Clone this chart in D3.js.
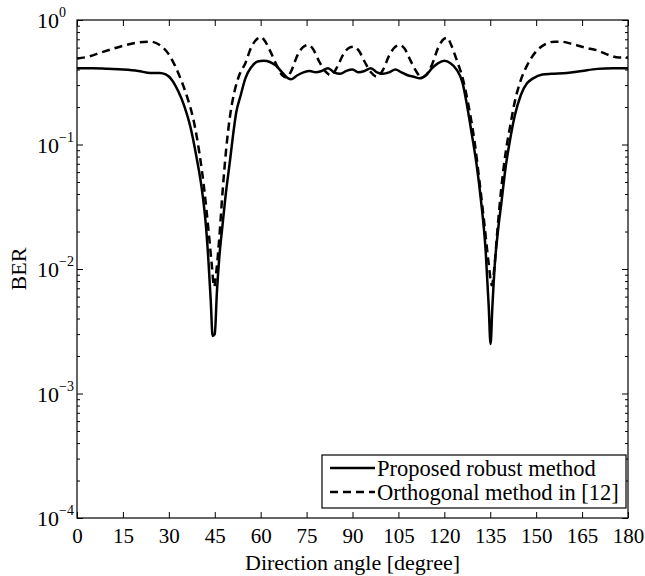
<!DOCTYPE html>
<html>
<head>
<meta charset="utf-8">
<script src="https://cdn.jsdelivr.net/npm/d3@7"></script>
<style>
  body { margin: 0; background: #fff; }
  text { font-family: "Liberation Serif", "Times New Roman", serif; fill: #000; }
</style>
</head>
<body>
<div id="chart"></div>
<script>
// angles [degree] and BER values
const anglesProposed = [0, 5, 10, 15, 20, 24, 27, 29, 31, 33, 35, 37, 39, 41, 42, 43, 43.7, 44.3, 45, 45.7, 46.5, 47.5, 48.5, 50, 51, 52, 53.5, 55, 57, 59, 61, 63, 65, 67, 69, 70, 72, 74, 76, 78, 80, 82, 84, 86, 88, 90, 92, 94, 96, 98, 100, 102, 104, 106, 108, 110, 112, 114, 116, 118, 120, 122, 124, 126, 127.5, 129, 130.5, 132, 133.5, 134.5, 135.1, 135.7, 136.5, 137.5, 138.7, 140, 141.5, 143, 145, 147, 149, 152, 155, 160, 165, 170, 175, 180];
const berProposed = [0.41, 0.41, 0.405, 0.40, 0.39, 0.375, 0.375, 0.365, 0.33, 0.27, 0.205, 0.14, 0.08, 0.04, 0.024, 0.011, 0.0055, 0.0029, 0.003, 0.0065, 0.0125, 0.022, 0.038, 0.075, 0.12, 0.18, 0.25, 0.34, 0.42, 0.465, 0.47, 0.46, 0.43, 0.38, 0.34, 0.335, 0.36, 0.38, 0.39, 0.38, 0.39, 0.41, 0.38, 0.37, 0.39, 0.40, 0.38, 0.39, 0.41, 0.38, 0.37, 0.38, 0.40, 0.38, 0.36, 0.35, 0.34, 0.36, 0.41, 0.45, 0.47, 0.45, 0.40, 0.31, 0.2, 0.12, 0.07, 0.035, 0.014, 0.005, 0.0025, 0.005, 0.011, 0.02, 0.035, 0.065, 0.11, 0.17, 0.25, 0.31, 0.34, 0.365, 0.37, 0.375, 0.39, 0.405, 0.41, 0.41];

const anglesOrthogonal = [0, 4, 8, 12, 16, 20, 24, 27, 30, 32, 34, 36, 38, 40, 41.5, 43, 44, 44.8, 45.6, 46.5, 47.5, 48.7, 50, 51.5, 53, 55, 57, 59, 60, 61, 63, 65.5, 67, 68.5, 70, 72, 74, 75.5, 77, 79, 81, 83, 85, 87, 89, 90.5, 92, 94, 96, 98, 100, 102, 104, 105.5, 107, 109, 111, 112.5, 114, 116, 118, 120, 121, 122, 124, 126, 128, 130, 131.5, 133, 134.5, 135.5, 136.3, 137.3, 138.5, 140, 141.5, 143, 145, 147, 150, 153, 156, 158, 162, 166, 170, 174, 177, 180];
const berOrthogonal = [0.49, 0.51, 0.55, 0.59, 0.63, 0.66, 0.67, 0.63, 0.53, 0.43, 0.33, 0.24, 0.16, 0.085, 0.045, 0.02, 0.011, 0.0072, 0.01, 0.018, 0.04, 0.09, 0.17, 0.27, 0.36, 0.45, 0.61, 0.71, 0.73, 0.70, 0.57, 0.42, 0.36, 0.345, 0.39, 0.52, 0.61, 0.63, 0.59, 0.47, 0.39, 0.36, 0.42, 0.53, 0.60, 0.61, 0.57, 0.46, 0.38, 0.35, 0.40, 0.52, 0.61, 0.63, 0.59, 0.47, 0.38, 0.345, 0.36, 0.44, 0.60, 0.71, 0.72, 0.65, 0.48, 0.34, 0.2, 0.1, 0.05, 0.024, 0.011, 0.0074, 0.01, 0.02, 0.042, 0.085, 0.14, 0.22, 0.33, 0.43, 0.56, 0.64, 0.67, 0.67, 0.64, 0.60, 0.57, 0.52, 0.50, 0.50];

const xTicks = [0, 15, 30, 45, 60, 75, 90, 105, 120, 135, 150, 165, 180];
const yExponents = [0, -1, -2, -3, -4];
const legendLabels = ["Proposed robust method", "Orthogonal method in [12]"];

const W = 645, H = 576;
const margin = {top: 20, right: 17, bottom: 58, left: 77};
const width = W - margin.left - margin.right;
const height = H - margin.top - margin.bottom;

const svg = d3.select("#chart").append("svg")
    .attr("width", W)
    .attr("height", H);

const g = svg.append("g")
    .attr("transform", "translate(" + margin.left + "," + margin.top + ")");

const x = d3.scaleLinear().domain([0, 180]).range([0, width]);
const y = d3.scaleLog().domain([1e-4, 1]).range([height, 0]);

// ticks (inward, on all four sides)
const minorVals = [];
for (let e = -4; e < 0; e++) {
    for (let k = 2; k <= 9; k++) minorVals.push(k * Math.pow(10, e));
}

g.append("g").attr("transform", "translate(0," + height + ")")
    .call(d3.axisBottom(x).tickValues(xTicks).tickSize(-6).tickPadding(10).tickFormat(d3.format("d")))
    .call(a => a.select(".domain").remove())
    .call(a => a.selectAll("text").style("font-size", "21px").attr("dy", "0.72em"));

g.append("g")
    .call(d3.axisTop(x).tickValues(xTicks).tickSize(-6).tickFormat(""))
    .call(a => a.select(".domain").remove());

g.append("g")
    .call(d3.axisLeft(y).tickValues(yExponents.map(e => Math.pow(10, e))).tickSize(-6).tickFormat(""))
    .call(a => a.select(".domain").remove());
g.append("g")
    .call(d3.axisLeft(y).tickValues(minorVals).tickSize(-3).tickFormat(""))
    .call(a => a.select(".domain").remove());
g.append("g").attr("transform", "translate(" + width + ",0)")
    .call(d3.axisRight(y).tickValues(yExponents.map(e => Math.pow(10, e))).tickSize(-6).tickFormat(""))
    .call(a => a.select(".domain").remove());
g.append("g").attr("transform", "translate(" + width + ",0)")
    .call(d3.axisRight(y).tickValues(minorVals).tickSize(-3).tickFormat(""))
    .call(a => a.select(".domain").remove());

g.selectAll(".tick line").attr("stroke", "#000").attr("stroke-width", 1);

// y tick labels 10^e
const yl = g.append("g").selectAll("text.ylab")
    .data(yExponents)
    .join("text")
    .attr("class", "ylab")
    .attr("x", -40)
    .attr("y", d => y(Math.pow(10, d)) + 8)
    .style("font-size", "22px");
yl.append("tspan").text("10");
yl.append("tspan").attr("dy", -11).style("font-size", "14px")
    .text(d => d === 0 ? "0" : "\u2212" + Math.abs(d));

// box
g.append("rect")
    .attr("width", width).attr("height", height)
    .attr("fill", "none").attr("stroke", "#000").attr("stroke-width", 1.2);

// lines
const line = d3.line()
    .x(d => x(d[0]))
    .y(d => y(d[1]))
    .curve(d3.curveMonotoneX);

const seriesProposed = anglesProposed.map((a, i) => [a, berProposed[i]]);
const seriesOrthogonal = anglesOrthogonal.map((a, i) => [a, berOrthogonal[i]]);

g.append("path").datum(seriesOrthogonal)
    .attr("d", line)
    .attr("fill", "none").attr("stroke", "#000")
    .attr("stroke-width", 2.5).attr("stroke-dasharray", "8,5");

g.append("path").datum(seriesProposed)
    .attr("d", line)
    .attr("fill", "none").attr("stroke", "#000")
    .attr("stroke-width", 2.5);

// axis labels
svg.append("text")
    .attr("x", margin.left + width / 2)
    .attr("y", 570)
    .attr("text-anchor", "middle")
    .style("font-size", "22px")
    .attr("fill", "#333")
    .text("Direction angle [degree]");

svg.append("text")
    .attr("transform", "translate(26," + (margin.top + height / 2) + ") rotate(-90)")
    .attr("text-anchor", "middle")
    .style("font-size", "22px")
    .attr("fill", "#333")
    .text("BER");

// legend
const lg = svg.append("g").attr("transform", "translate(322,455)");
lg.append("rect")
    .attr("width", 304).attr("height", 53)
    .attr("fill", "#fff").attr("stroke", "#000").attr("stroke-width", 1.2);
lg.selectAll("line.leg")
    .data(legendLabels)
    .join("line")
    .attr("class", "leg")
    .attr("x1", 8).attr("x2", 53)
    .attr("y1", (d, i) => 13 + i * 24).attr("y2", (d, i) => 13 + i * 24)
    .attr("stroke", "#000").attr("stroke-width", 2.5)
    .attr("stroke-dasharray", (d, i) => i === 1 ? "8,5" : null);
lg.selectAll("text.leg")
    .data(legendLabels)
    .join("text")
    .attr("class", "leg")
    .attr("x", 55)
    .attr("y", (d, i) => 21 + i * 24)
    .style("font-size", "22.5px")
    .text(d => d);
</script>
</body>
</html>
